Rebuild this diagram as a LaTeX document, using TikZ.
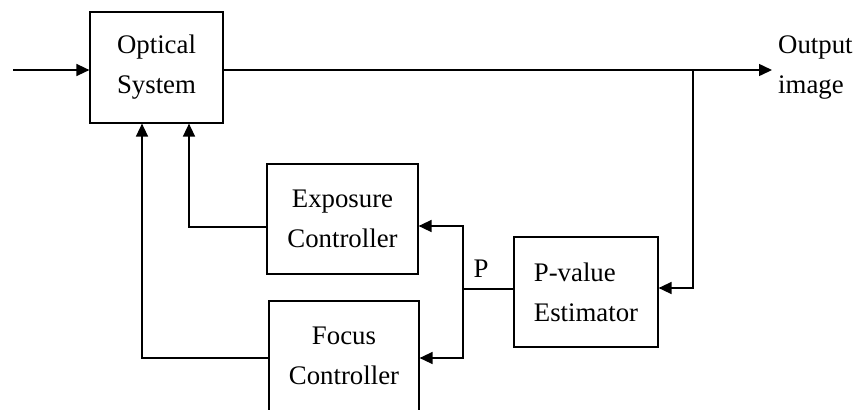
\documentclass[tikz,border=0pt]{standalone}
\usepackage{fontspec}
\setmainfont{Liberation Serif}
\usetikzlibrary{arrows.meta}
\begin{document}
\begin{tikzpicture}[x=1bp,y=-1bp,
  box/.style={draw,line width=1.2bp,rectangle,inner sep=0pt,align=center,
    font=\fontsize{26.8bp}{40bp}\selectfont},
  lbl/.style={inner sep=0pt,font=\fontsize{26.8bp}{40bp}\selectfont},
  conn/.style={line width=1.5bp},
  arr/.style={conn,-{Triangle[length=13bp,width=12bp]}}]
\useasboundingbox (0,0) rectangle (857,409);
\begin{scope}
\clip (0,0) rectangle (857,409);
\node[box,minimum width=133bp,minimum height=111bp] (opt) at (156.5,67.5) {Optical\\System};
\node[box,minimum width=151bp,minimum height=110bp] (ex) at (342.5,219) {Exposure\\Controller};
\node[box,minimum width=150bp,minimum height=110bp] (fo) at (344,356) {Focus\\Controller};
\node[box,minimum width=144bp,minimum height=110bp,align=left] (pv) at (586,292) {P-value\\Estimator};
\node[lbl,anchor=west,align=left] (outl) at (778,68) {Output\\image};
\node[lbl] (plbl) at (481,269) {P};
\coordinate (in) at (13,70);
\coordinate (out) at (772,70);
\coordinate (jo) at (693,70);
\coordinate (jp) at (463,289);
\draw[arr] (in) -- (in -| opt.west);
\draw[arr] (opt.east |- in) -- (out);
\draw[arr] (jo) |- (pv.east |- 0,288);
\draw[conn] (pv.west |- jp) -- (jp);
\draw[arr] (jp) |- (ex.east |- 0,226);
\draw[arr] (jp) |- (fo.east |- 0,358);
\draw[arr] (ex.west |- 0,227) -| (opt.south -| 189,0);
\draw[arr] (fo.west |- 0,358) -| (opt.south -| 142,0);
\end{scope}
\end{tikzpicture}
\end{document}
